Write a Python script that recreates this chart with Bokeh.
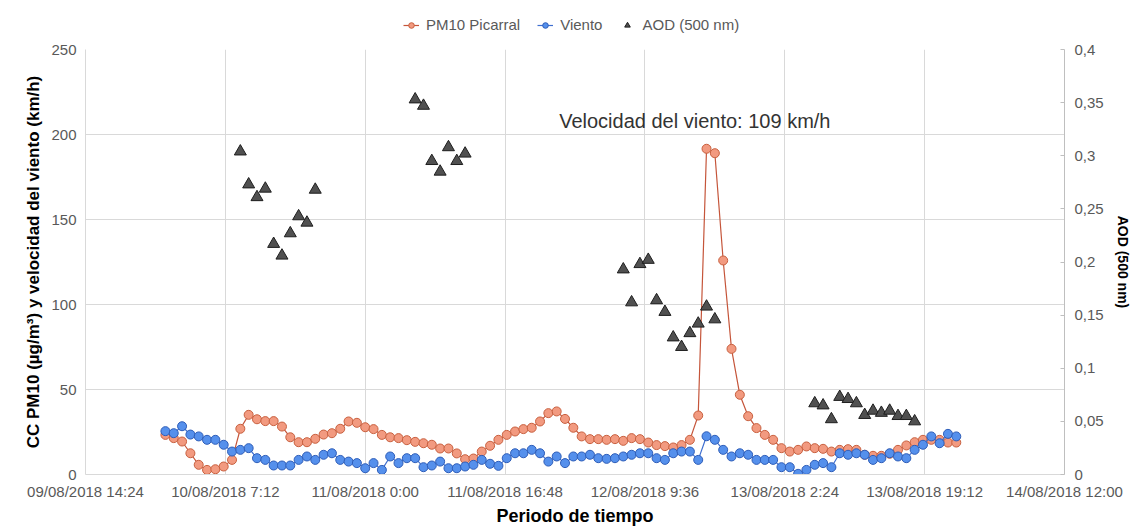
import pandas as pd
from bokeh.plotting import figure
from bokeh.layouts import column
from bokeh.models import Range1d, LinearAxis, FixedTicker, Legend, LegendItem, Label
from bokeh.embed import file_html
from bokeh.resources import INLINE

# ---------------- data ----------------
first_hour = "2018-08-10 00:00"   # hourly series start

pm10 = [23.3, 21.4, 19.4, 12.5, 5.7, 2.7, 3.1, 4.7, 8.6, 26.9,
        35.1, 32.5, 31.4, 31.4, 28.2, 21.9, 19.0, 19.0, 21.0, 23.5,
        24.3, 26.9, 31.2, 30.4, 27.8, 26.7, 23.3, 21.9, 21.4, 20.2,
        19.2, 18.4, 17.5, 15.3, 15.3, 12.4, 9.0, 9.4, 13.5, 16.9,
        20.4, 23.3, 25.3, 26.7, 27.5, 31.2, 36.1, 37.1, 32.7, 27.5,
        22.4, 20.8, 20.8, 20.4, 20.8, 19.8, 21.4, 20.8, 18.8, 17.3,
        16.7, 15.9, 17.3, 20.4, 34.7, 191.6, 189.0, 125.9, 73.9, 46.9,
        34.3, 27.3, 23.3, 20.4, 15.5, 13.5, 14.5, 16.5, 15.5, 15.1,
        13.5, 14.5, 14.9, 14.5, 11.6, 11.0, 11.0, 12.2, 14.5, 17.1,
        19.0, 20.4, 20.4, 20.4, 18.8, 18.8]

viento = [25.5, 24.3, 28.4, 23.5, 22.4, 20.4, 20.4, 17.5, 13.5, 14.5,
          15.5, 9.6, 8.6, 5.3, 5.3, 5.3, 8.6, 10.6, 8.6, 11.6,
          12.5, 8.6, 7.6, 6.7, 3.7, 6.7, 2.7, 10.6, 6.7, 9.6,
          9.6, 4.3, 5.3, 7.6, 3.7, 3.7, 4.7, 5.7, 8.6, 6.3,
          5.1, 9.6, 12.5, 12.5, 14.5, 12.5, 7.6, 10.6, 6.7, 10.6,
          10.6, 11.6, 9.6, 9.2, 9.6, 10.6, 11.6, 12.5, 12.5, 9.6,
          8.6, 12.5, 13.5, 13.5, 8.6, 22.5, 20.4, 14.5, 10.6, 12.5,
          11.6, 8.6, 8.6, 8.6, 4.3, 4.3, 0.4, 2.7, 5.7, 6.7,
          4.3, 12.5, 11.6, 12.5, 11.6, 8.6, 9.6, 12.5, 10.6, 9.6,
          14.5, 17.5, 22.4, 18.4, 23.9, 22.4]

aod_times = ["2018-08-10 09:00", "2018-08-10 10:00", "2018-08-10 11:00", "2018-08-10 12:00",
             "2018-08-10 13:00", "2018-08-10 14:00", "2018-08-10 15:00", "2018-08-10 16:00",
             "2018-08-10 17:00", "2018-08-10 18:00",
             "2018-08-11 06:00", "2018-08-11 07:00", "2018-08-11 08:00", "2018-08-11 09:00",
             "2018-08-11 10:00", "2018-08-11 11:00", "2018-08-11 12:00",
             "2018-08-12 07:00", "2018-08-12 08:00", "2018-08-12 09:00", "2018-08-12 10:00",
             "2018-08-12 11:00", "2018-08-12 12:00", "2018-08-12 13:00", "2018-08-12 14:00",
             "2018-08-12 15:00", "2018-08-12 16:00", "2018-08-12 17:00", "2018-08-12 18:00",
             "2018-08-13 06:00", "2018-08-13 07:00", "2018-08-13 08:00", "2018-08-13 09:00",
             "2018-08-13 10:00", "2018-08-13 11:00", "2018-08-13 12:00", "2018-08-13 13:00",
             "2018-08-13 14:00", "2018-08-13 15:00", "2018-08-13 16:00", "2018-08-13 17:00",
             "2018-08-13 18:00"]
aod = [0.304, 0.273, 0.261, 0.269, 0.217, 0.206, 0.227, 0.243, 0.237, 0.268,
       0.353, 0.347, 0.295, 0.285, 0.308, 0.295, 0.302,
       0.193, 0.162, 0.198, 0.202, 0.164, 0.153, 0.129, 0.120, 0.133, 0.142, 0.158, 0.146,
       0.067, 0.065, 0.052, 0.073, 0.071, 0.067, 0.056, 0.060, 0.058, 0.060, 0.055, 0.055, 0.050]

series_names = ["PM10 Picarral", "Viento", "AOD (500 nm)"]

x_tick_times = ["2018-08-09 14:24", "2018-08-10 07:12", "2018-08-11 00:00", "2018-08-11 16:48",
                "2018-08-12 09:36", "2018-08-13 02:24", "2018-08-13 19:12", "2018-08-14 12:00"]
x_tick_labels = ["09/08/2018 14:24", "10/08/2018 7:12", "11/08/2018 0:00", "11/08/2018 16:48",
                 "12/08/2018 9:36", "13/08/2018 2:24", "13/08/2018 19:12", "14/08/2018 12:00"]
left_ticks = [0, 50, 100, 150, 200, 250]
right_ticks = [0, 0.05, 0.1, 0.15, 0.2, 0.25, 0.3, 0.35, 0.4]
right_tick_labels = ["0", "0,05", "0,1", "0,15", "0,2", "0,25", "0,3", "0,35", "0,4"]

annotation_text = "Velocidad del viento: 109 km/h"

# ---------------- helpers ----------------
def ms(s):
    return pd.Timestamp(s).value / 1e6

times = pd.date_range(first_hour, periods=len(pm10), freq="h")
aod_x = pd.to_datetime(aod_times)
xt = [ms(t) for t in x_tick_times]

FONT = "Liberation Sans"
GRID = "#d9d9d9"
TICK = "#595959"

STY_PM_LINE = dict(line_color="#C5553A", line_width=1.2)
STY_PM_DOT = dict(marker="circle", size=9, fill_color="#F29A80", line_color="#C8603F", line_width=1)
STY_V_LINE = dict(line_color="#3F6FD0", line_width=1.2)
STY_V_DOT = dict(marker="circle", size=9, fill_color="#5590EC", line_color="#2E5DB8", line_width=1)
STY_AOD = dict(marker="triangle", size=12, fill_color="#505050", line_color="#1e1e1e", line_width=1)

LEG_H = 39

# ---------------- main chart ----------------
p = figure(width=1135, height=530 - LEG_H, x_axis_type="datetime",
           x_range=Range1d(xt[0], xt[-1]), y_range=Range1d(0, 250),
           output_backend="svg", toolbar_location=None,
           min_border_left=85, min_border_right=71, min_border_top=10, min_border_bottom=56)
p.outline_line_color = None
p.background_fill_color = "white"
p.border_fill_color = "white"

xa = p.xaxis[0]
xa.ticker = FixedTicker(ticks=xt)
xa.major_label_overrides = {t: lab for t, lab in zip(xt, x_tick_labels)}
xa.axis_label = "Periodo de tiempo"
ya = p.yaxis[0]
ya.ticker = FixedTicker(ticks=left_ticks)
ya.axis_label = "CC PM10 (µg/m³) y velocidad del viento (km/h)"

p.extra_y_ranges = {"aod": Range1d(0, 0.4)}
ra = LinearAxis(y_range_name="aod", ticker=FixedTicker(ticks=right_ticks),
                axis_label="AOD (500 nm)")
ra.major_label_overrides = {t: lab for t, lab in zip(right_ticks, right_tick_labels)}
p.add_layout(ra, "right")

for ax in (xa, ya, ra):
    ax.major_label_text_font = FONT
    ax.major_label_text_font_size = "15px"
    ax.major_label_text_color = TICK
    ax.axis_label_text_font = FONT
    ax.axis_label_text_font_style = "bold"
    ax.axis_label_text_color = "#000000"
    ax.minor_tick_line_color = None
    ax.major_label_standoff = 9
    ax.axis_line_color = GRID
    ax.major_tick_line_color = None
    ax.major_tick_out = 0
    ax.major_tick_in = 0

xa.axis_label_text_font_size = "18px"
xa.axis_label_standoff = 3
xa.major_label_standoff = 8
ya.axis_label_text_font_size = "17px"
ya.axis_label_standoff = 5
ra.axis_label_text_font_size = "14px"
ra.axis_label_standoff = 8
ra.axis_line_color = "#bfbfbf"
ra.major_tick_line_color = "#bfbfbf"
ra.major_tick_in = 4
ra.major_label_standoff = 10

p.xgrid.grid_line_color = GRID
p.ygrid.grid_line_color = GRID

p.line(times, pm10, **STY_PM_LINE)
p.scatter(times, pm10, **STY_PM_DOT)
p.line(times, viento, **STY_V_LINE)
p.scatter(times, viento, **STY_V_DOT)
p.scatter(aod_x, aod, y_range_name="aod", **STY_AOD)

p.add_layout(Label(x=ms("2018-08-11 23:18"), y=208, text=annotation_text,
                   text_font=FONT, text_font_size="20px", text_color="#333333",
                   text_baseline="middle", text_align="left"))

# ---------------- legend strip (top) ----------------
# the same series are drawn here outside this strip's visible range, only to feed the legend glyphs
lf = figure(width=1135, height=LEG_H, x_range=Range1d(0, 1), y_range=Range1d(0, 1),
            x_axis_location=None, y_axis_location=None,
            output_backend="svg", toolbar_location=None,
            min_border_left=0, min_border_right=0, min_border_top=0, min_border_bottom=0)
lf.grid.visible = False
lf.outline_line_color = None
lf.border_fill_color = "white"
l1 = lf.line(times, pm10, **STY_PM_LINE)
s1 = lf.scatter(times, pm10, **STY_PM_DOT)
l2 = lf.line(times, viento, **STY_V_LINE)
s2 = lf.scatter(times, viento, **STY_V_DOT)
s3 = lf.scatter(aod_x, aod, **{**STY_AOD, "size": 9})

# frames of the column are aligned, so x is measured from the main chart's frame left edge
legend = Legend(items=[LegendItem(label=series_names[0], renderers=[l1, s1]),
                       LegendItem(label=series_names[1], renderers=[l2, s2]),
                       LegendItem(label=series_names[2], renderers=[s3])],
                orientation="horizontal", location=(318, 6),
                border_line_color=None, background_fill_alpha=0,
                label_text_font=FONT, label_text_font_size="15px", label_text_color=TICK,
                glyph_width=16, glyph_height=14, spacing=17, padding=2, margin=0,
                label_standoff=7)
lf.add_layout(legend)

layout = column(lf, p, spacing=0)
open("out.html", "w").write(file_html(layout, INLINE))
